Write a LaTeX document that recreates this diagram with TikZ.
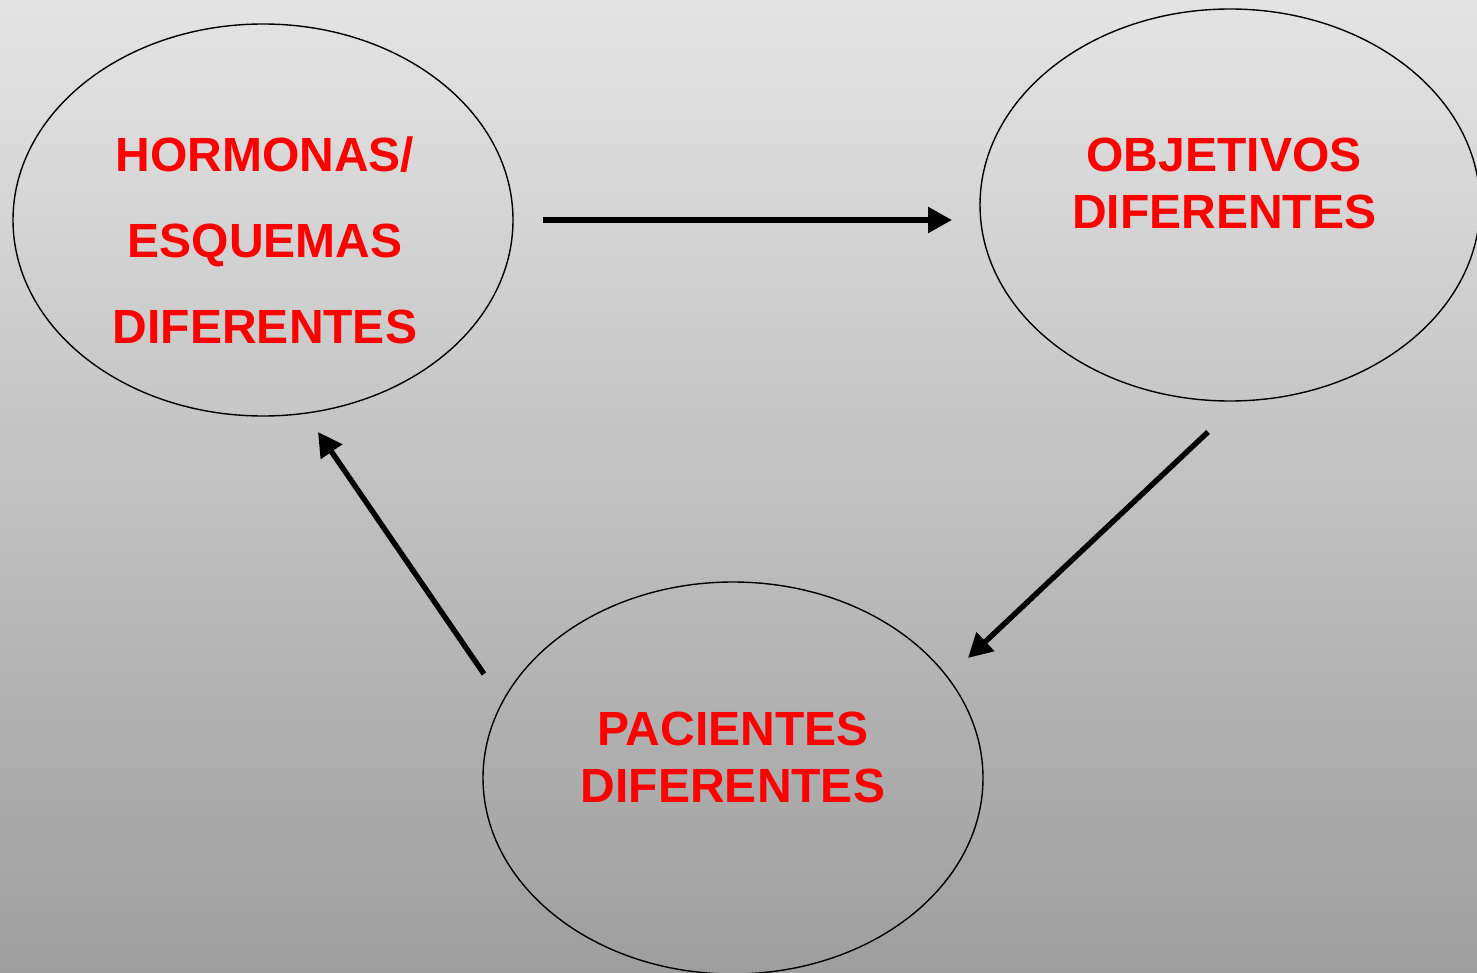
\documentclass[tikz,border=0pt]{standalone}
\usepackage{fontspec}
\setmainfont{Liberation Sans}
\usetikzlibrary{arrows.meta,shapes.geometric}
\definecolor{bgtop}{HTML}{E4E4E4}
\definecolor{bgbot}{HTML}{9E9E9E}
\definecolor{txtred}{HTML}{FF0000}
\tikzset{
  bubble/.style={ellipse,draw=black,line width=0.7pt,minimum width=250pt,minimum height=196pt,inner sep=0pt},
  label/.style={text=txtred,align=center,font=\fontsize{24}{28.5}\selectfont\bfseries,inner sep=0pt},
  flow/.style={line width=2.7pt,-{Triangle[length=12pt,width=12.5pt]}}
}
\begin{document}
\begin{tikzpicture}[x=0.5pt,y=-0.5pt]
\useasboundingbox (0,0) rectangle (1477,973);
\shade[top color=bgtop,bottom color=bgbot] (0,0) rectangle (1477,973);
\begin{scope}
\clip (0,0) rectangle (1477,973);
\node[bubble] (hor) at (263,220) {};
\node[bubble] (obj) at (1230,205) {};
\node[bubble] (pac) at (733,778) {};
\end{scope}
\node[label,font=\fontsize{24}{43}\selectfont\bfseries] (thor) at (265,240) {HORMONAS/\\ESQUEMAS\\DIFERENTES};
\node[label] (tobj) at (1224,183) {OBJETIVOS\\DIFERENTES};
\node[label] (tpac) at (733,757) {PACIENTES\\DIFERENTES};
\coordinate (a1s) at (543,220);
\coordinate (a1e) at (952,220);
\coordinate (a2s) at (1208,432);
\coordinate (a2e) at (968,658);
\coordinate (a3s) at (484,674);
\coordinate (a3e) at (318,432);
\draw[flow] (a1s) -- (a1e);
\draw[flow] (a2s) -- (a2e);
\draw[flow] (a3s) -- (a3e);
\end{tikzpicture}
\end{document}
